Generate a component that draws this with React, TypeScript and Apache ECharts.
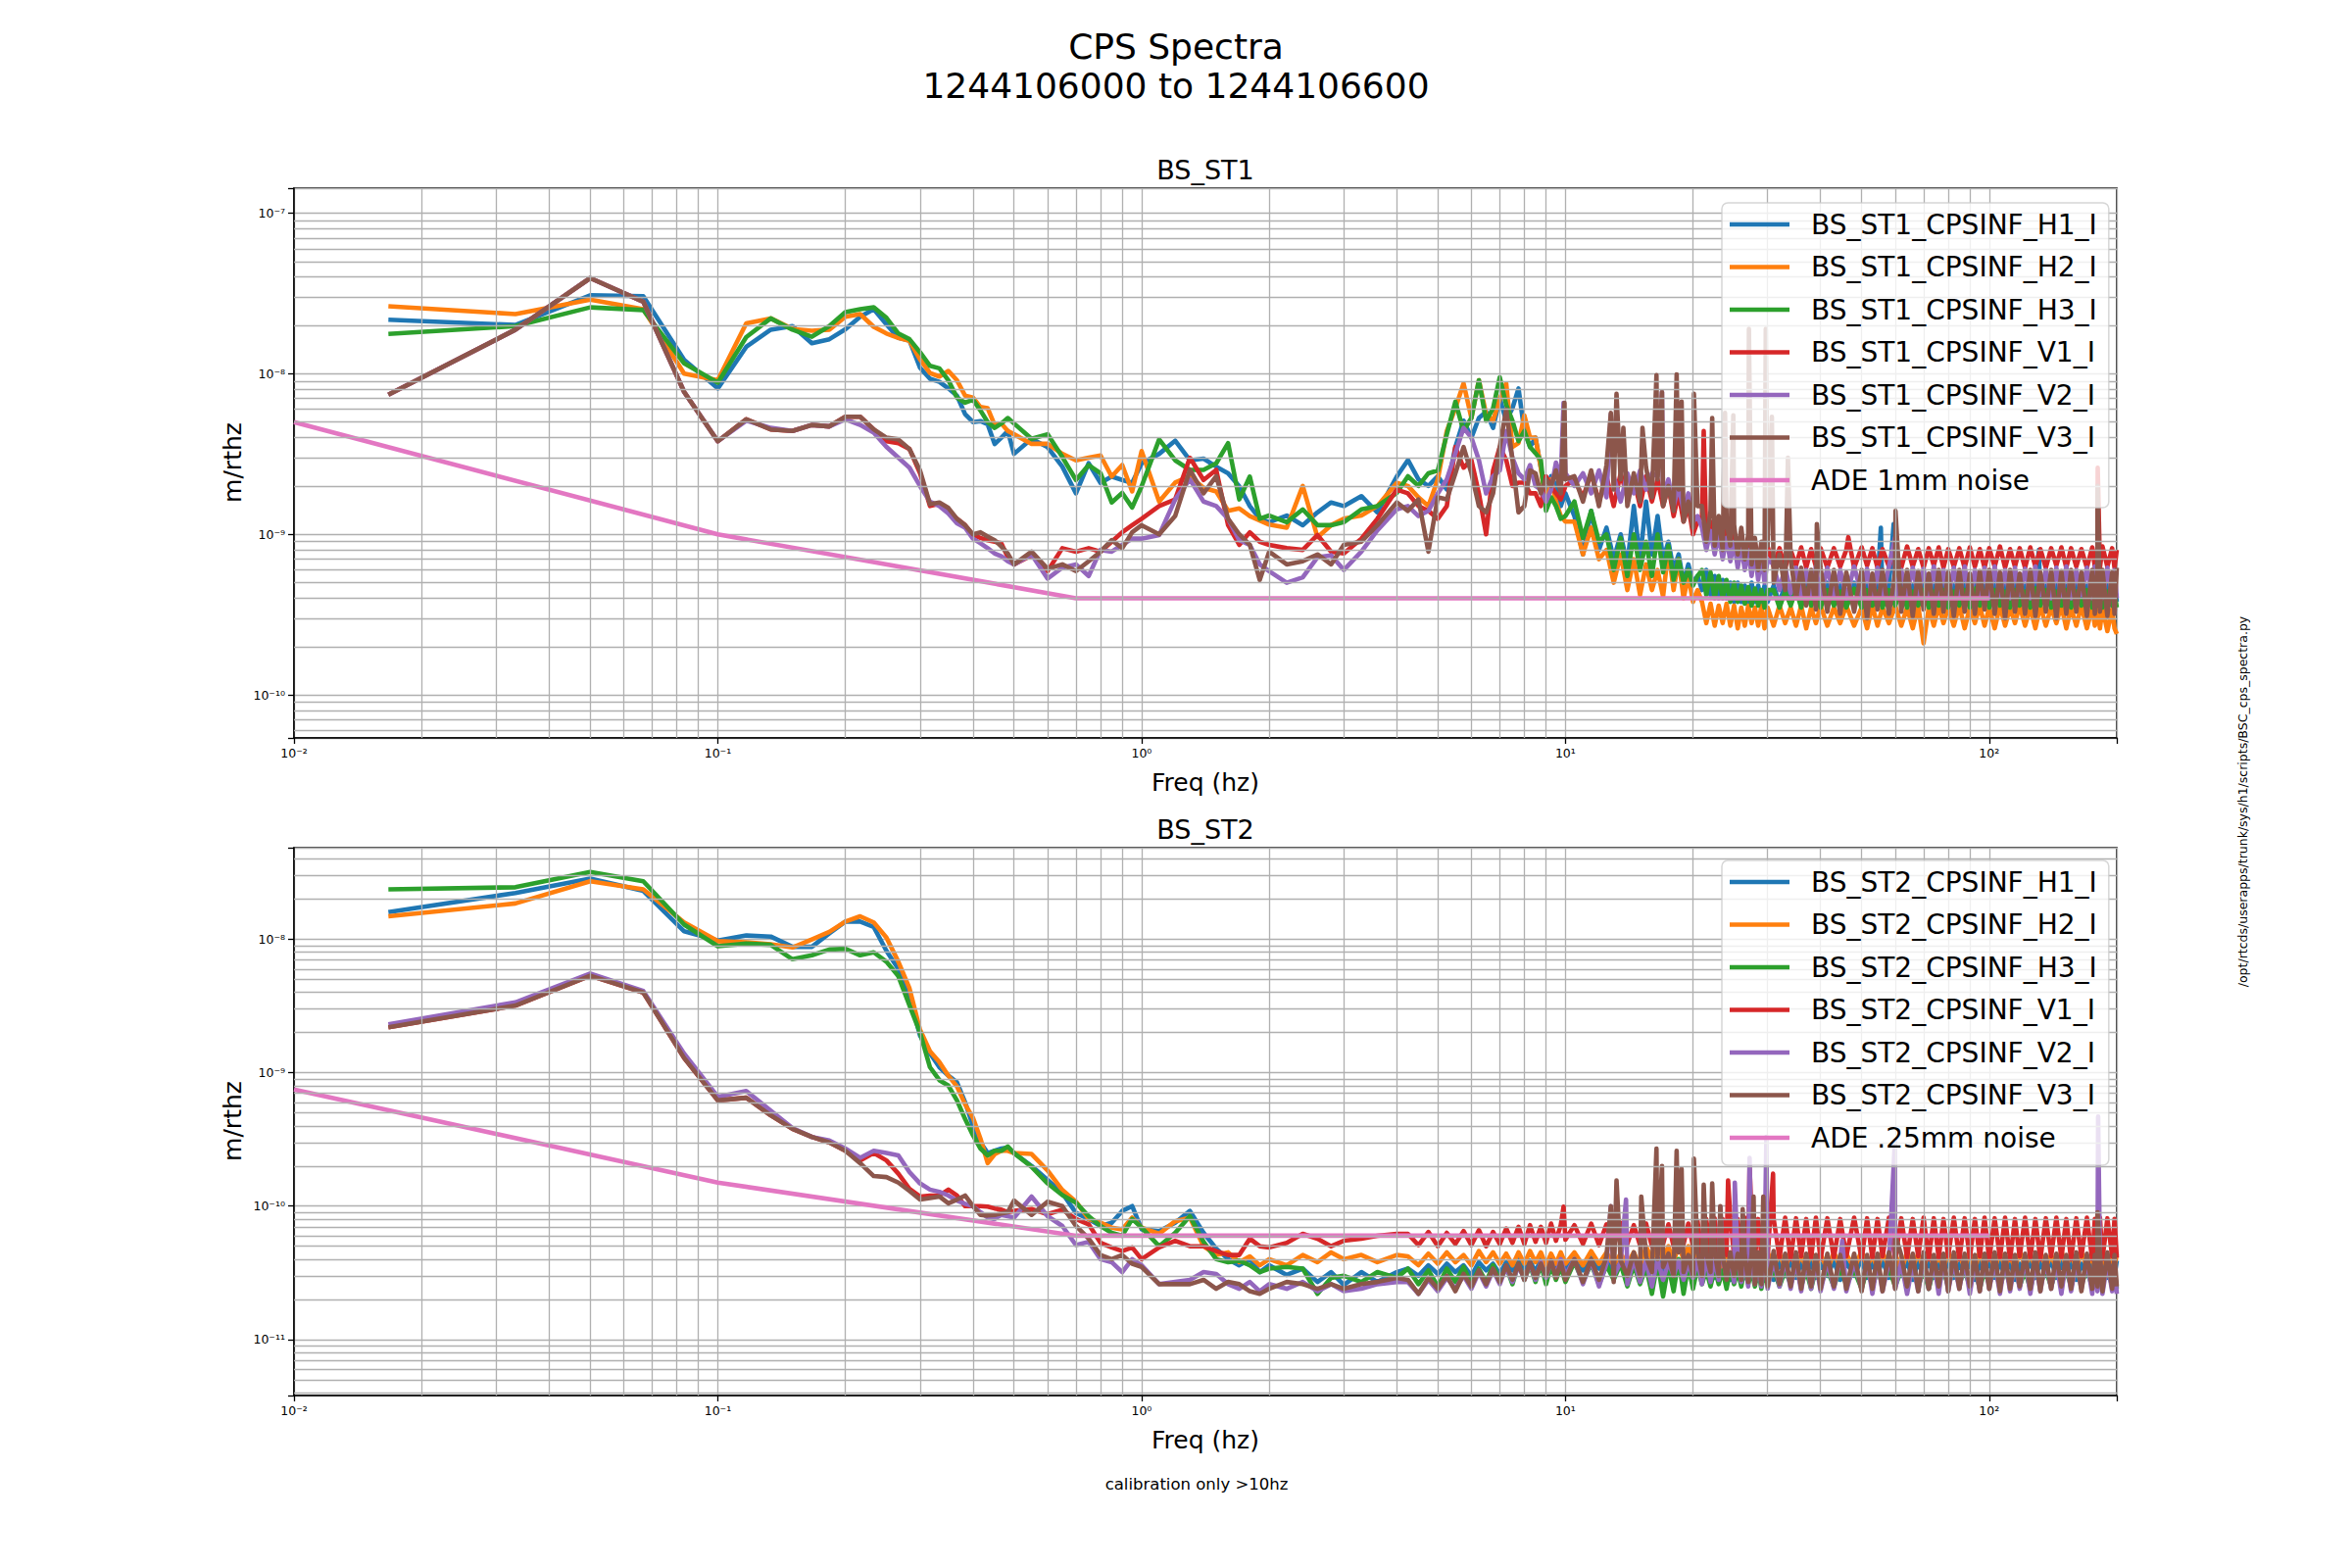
import React, { useEffect, useRef } from "react";
import * as echarts from "echarts";

// ---------------- data ----------------
// Frequencies (Hz), shared by every CPS series
const FREQ = [
  0.0167, 0.0333, 0.05, 0.0667, 0.0833, 0.1, 0.1167, 0.1333, 0.15, 0.1667, 0.1833, 0.2, 0.2167, 0.2333, 0.25, 0.2667, 0.2833, 0.3, 0.3167, 0.3333, 0.35, 0.3667, 0.3833, 0.4, 0.4167, 0.4333, 0.45, 0.4667, 0.4833, 0.5,
  0.55, 0.6, 0.65, 0.7, 0.75, 0.8, 0.85, 0.9, 0.95, 1.0, 1.1, 1.2, 1.3, 1.4, 1.5, 1.6, 1.7, 1.8, 1.9, 2.0, 2.2, 2.4, 2.6, 2.8, 3.0, 3.3, 3.6, 4.0,
  4.25, 4.5, 4.75, 5, 5.25, 5.5, 5.75, 6, 6.25, 6.5, 6.75, 7, 7.25, 7.5, 7.75, 8, 8.25, 8.5, 8.75, 9, 9.25, 9.5, 9.75, 10,
  10.5, 11, 11.5, 12, 12.5, 13, 13.5, 14, 14.5, 15, 15.5, 16, 16.5, 17, 17.5, 18, 18.5, 19, 19.5, 20, 20.5,
  21, 21.5, 22, 22.5, 23, 23.5, 24, 24.5, 25, 25.5, 26, 26.5, 27, 27.5, 28, 28.5, 29, 29.5, 30,
  31, 32, 33, 34, 35, 36, 37, 38, 39, 40,
  41.5, 43, 44.5, 46, 48, 50, 51.5, 53, 54.5, 56,
  58, 60, 62, 64, 66, 68, 70, 72, 74, 76, 78, 80,
  82.5, 85, 87.5, 90, 92.5, 95, 97.5, 100,
  103, 106, 109, 112, 115, 118,
  121.5, 125, 128.5, 132, 136, 140, 144, 148, 152, 156,
  160.5, 165, 170, 175, 177.5, 180, 182.5, 185, 190, 195, 197.5, 200,
];

// BS_ST1 values in nm/rtHz
const ST1_H1 = [
  21.7, 20.1, 30.8, 30.4, 12.2, 8.1, 14.7, 18.8, 19.8, 15.5, 16.4, 18.9, 22.6, 25.2, 20.3, 16.7, 16.1, 10.9, 9.3, 8.9, 8.1, 7.3, 5.6, 5.0, 5.07, 4.84, 3.65, 4.0, 4.4, 3.17,
  3.93, 3.49, 2.64, 1.8, 2.77, 2.09, 2.29, 2.18, 2.09, 2.77, 3.17, 3.83, 2.89, 2.96, 2.64, 2.4, 1.99, 1.5, 1.25, 1.19, 1.31, 1.14, 1.37, 1.58, 1.5, 1.73, 1.37, 2.29,
  2.9, 2.2, 2.0, 2.3, 1.9, 3.5, 5.1, 4.0, 5.3, 5.8, 4.6, 7.0, 5.1, 6.1, 8.1, 4.4, 3.5, 4.0, 2.6, 1.7, 2.3, 2.0, 1.5, 1.8,
  1.3, 0.75, 1.4, 0.8, 1.1, 0.7, 1.0, 0.65, 1.5, 0.7, 1.6, 0.75, 1.3, 0.7, 0.9, 0.6, 0.75, 0.5, 0.65, 0.5, 0.55,
  0.45, 0.6, 0.42, 0.55, 0.4, 0.52, 0.4, 0.5, 0.38, 0.5, 0.38, 0.48, 0.37, 0.5, 0.38, 0.48, 0.37, 0.48, 0.38,
  0.48, 0.37, 0.5, 0.38, 0.47, 0.37, 0.49, 0.38, 0.48, 0.37,
  0.5, 0.38, 0.48, 0.37, 0.5, 0.39, 0.48, 0.38, 0.49, 0.37,
  0.48, 0.37, 0.5, 0.38, 0.48, 0.37, 0.49, 0.38, 0.48, 0.37, 0.5, 0.38,
  0.48, 0.37, 0.5, 0.38, 0.49, 0.37, 0.48, 0.38,
  0.5, 0.37, 0.48, 0.38, 0.49, 0.37,
  0.48, 0.38, 0.5, 0.37, 0.48, 0.38, 0.49, 0.37, 0.48, 0.38,
  0.5, 0.37, 0.48, 0.38, 0.49, 0.37, 0.48, 0.38, 0.5, 0.37, 0.48, 0.38,
];
const ST1_H1_SPIKES = [[55.5, 1.1], [59.5, 1.16], [131, 0.8]];

const ST1_H2 = [
  26.3, 23.5, 28.9, 25.2, 10.0, 9.1, 20.6, 22.1, 19.0, 18.5, 18.8, 22.6, 23.5, 19.6, 17.8, 16.7, 16.0, 12.3, 10.1, 9.6, 10.4, 9.1, 7.3, 7.1, 6.2, 6.1, 4.8, 4.9, 4.4, 4.2,
  3.66, 3.66, 3.17, 2.89, 3.0, 3.1, 2.29, 2.7, 1.85, 3.3, 1.6, 2.1, 2.3, 1.95, 1.85, 1.4, 1.45, 1.3, 1.22, 1.15, 1.1, 2.0, 0.96, 1.14, 1.25, 1.31, 1.5, 2.09,
  2.0, 1.7, 1.5, 2.2, 4.4, 6.1, 8.7, 5.3, 9.1, 5.6, 5.1, 7.0, 8.7, 3.5, 3.7, 5.5, 4.0, 4.0, 2.6, 1.5, 2.2, 1.6, 1.3, 1.2,
  1.2, 0.75, 1.1, 0.7, 0.8, 0.5, 0.75, 0.45, 0.7, 0.42, 0.65, 0.45, 0.6, 0.41, 0.8, 0.45, 0.7, 0.4, 0.55, 0.38, 0.45,
  0.38, 0.28, 0.37, 0.27, 0.36, 0.28, 0.37, 0.27, 0.36, 0.26, 0.35, 0.27, 0.36, 0.28, 0.35, 0.27, 0.36, 0.26, 0.35,
  0.27, 0.36, 0.28, 0.35, 0.27, 0.36, 0.26, 0.35, 0.28, 0.36,
  0.27, 0.35, 0.28, 0.36, 0.27, 0.35, 0.26, 0.36, 0.27, 0.35,
  0.28, 0.36, 0.27, 0.35, 0.26, 0.36, 0.21, 0.35, 0.27, 0.36, 0.28, 0.35,
  0.27, 0.36, 0.26, 0.35, 0.28, 0.36, 0.27, 0.35,
  0.26, 0.36, 0.27, 0.35, 0.28, 0.36,
  0.27, 0.35, 0.26, 0.36, 0.27, 0.35, 0.28, 0.36, 0.26, 0.35,
  0.27, 0.36, 0.26, 0.35, 0.27, 0.34, 0.26, 0.35, 0.25, 0.34, 0.26, 0.24,
];

const ST1_H3 = [
  17.7, 19.8, 25.9, 24.9, 11.6, 8.8, 16.9, 22.1, 18.8, 17.0, 19.8, 24.2, 25.2, 25.9, 22.3, 17.8, 16.4, 13.6, 11.2, 10.8, 9.1, 7.1, 6.6, 6.9, 5.9, 5.0, 4.6, 4.9, 5.3, 4.9,
  3.93, 4.2, 3.03, 2.18, 2.7, 2.4, 1.58, 1.81, 1.47, 1.99, 3.9, 2.89, 2.52, 2.52, 2.77, 3.7, 1.65, 2.29, 1.25, 1.31, 1.19, 1.43, 1.14, 1.14, 1.19, 1.43, 1.5, 1.81,
  2.3, 2.0, 2.4, 2.5, 4.2, 6.7, 4.4, 5.3, 9.1, 5.1, 6.1, 9.5, 6.4, 5.1, 3.8, 4.4, 3.5, 3.2, 2.9, 1.4, 1.7, 1.5, 1.25, 1.3,
  1.6, 0.95, 1.4, 0.9, 1.0, 0.6, 0.95, 0.55, 1.0, 0.6, 0.9, 0.55, 1.0, 0.58, 0.85, 0.52, 0.7, 0.5, 0.6, 0.48, 0.55,
  0.6, 0.42, 0.58, 0.4, 0.55, 0.4, 0.52, 0.38, 0.5, 0.38, 0.48, 0.37, 0.47, 0.36, 0.46, 0.36, 0.45, 0.35, 0.45,
  0.45, 0.35, 0.44, 0.36, 0.45, 0.35, 0.46, 0.36, 0.44, 0.35,
  0.45, 0.36, 0.44, 0.35, 0.46, 0.35, 0.45, 0.36, 0.44, 0.35,
  0.45, 0.36, 0.46, 0.35, 0.44, 0.36, 0.45, 0.35, 0.44, 0.36, 0.45, 0.35,
  0.44, 0.36, 0.45, 0.35, 0.46, 0.36, 0.44, 0.35,
  0.45, 0.36, 0.44, 0.35, 0.45, 0.36,
  0.44, 0.35, 0.46, 0.36, 0.45, 0.35, 0.44, 0.36, 0.45, 0.35,
  0.44, 0.36, 0.45, 0.35, 0.44, 0.36, 0.45, 0.35, 0.44, 0.36, 0.43, 0.35,
];

const ST1_V1 = [
  7.4, 18.8, 39.4, 28.1, 7.7, 3.8, 5.2, 4.5, 4.4, 4.8, 4.7, 5.4, 5.4, 4.5, 3.8, 3.7, 3.4, 2.4, 1.5, 1.55, 1.4, 1.25, 1.14, 0.99, 0.95, 0.92, 0.9, 0.88, 0.72, 0.65,
  0.74, 0.59, 0.82, 0.78, 0.82, 0.78, 0.9, 1.03, 1.14, 1.25, 1.5, 1.65, 3.0, 2.18, 2.52, 1.14, 0.86, 1.03, 0.9, 0.86, 0.82, 0.8, 0.99, 0.78, 0.76, 0.94, 1.25, 1.9,
  1.8, 1.5, 1.4, 1.25, 1.5, 3.5, 2.6, 2.9, 1.8, 1.0, 2.5, 3.5, 2.9, 2.0, 2.1, 2.1, 1.8, 1.8, 1.5, 2.3, 2.0, 1.8, 1.65, 2.0,
  2.2, 1.7, 2.4, 1.6, 2.3, 1.5, 2.4, 1.7, 2.2, 1.5, 2.3, 1.6, 2.2, 1.5, 2.0, 1.3, 1.8, 1.2, 1.5, 1.0, 1.2,
  1.3, 0.9, 1.2, 0.85, 1.15, 0.8, 1.1, 0.8, 1.0, 0.75, 0.95, 0.72, 0.9, 0.7, 0.88, 0.68, 0.85, 0.66, 0.84,
  0.63, 0.82, 0.62, 0.8, 0.64, 0.83, 0.62, 0.81, 0.63, 0.82,
  0.62, 0.82, 0.63, 0.8, 0.62, 0.83, 0.64, 0.82, 0.62, 0.81,
  0.63, 0.82, 0.62, 0.84, 0.63, 0.81, 0.62, 0.82, 0.64, 0.83, 0.62, 0.81,
  0.63, 0.82, 0.62, 0.83, 0.63, 0.81, 0.62, 0.82,
  0.63, 0.84, 0.62, 0.81, 0.63, 0.82,
  0.62, 0.83, 0.63, 0.81, 0.62, 0.82, 0.64, 0.83, 0.62, 0.82,
  0.63, 0.81, 0.62, 0.83, 0.63, 0.82, 0.62, 0.84, 0.63, 0.82, 0.62, 0.8,
];
const ST1_V1_SPIKES = [[21.2, 4.4], [46.5, 0.96], [180.3, 2.6]];

const ST1_V2 = [
  7.4, 18.8, 39.4, 28.1, 7.7, 3.8, 5.1, 4.6, 4.4, 4.8, 4.7, 5.2, 4.8, 4.3, 3.5, 3.0, 2.6, 2.0, 1.6, 1.5, 1.35, 1.17, 1.1, 0.94, 0.88, 0.82, 0.76, 0.73, 0.68, 0.65,
  0.75, 0.53, 0.62, 0.65, 0.55, 0.8, 0.78, 0.86, 0.94, 0.94, 0.99, 1.65, 2.2, 1.6, 1.5, 1.25, 0.92, 0.86, 0.65, 0.59, 0.5, 0.54, 0.72, 0.74, 0.6, 0.78, 1.06, 1.43,
  1.5, 1.3, 1.4, 1.8, 2.2, 3.2, 4.6, 4.0, 2.9, 1.8, 2.3, 2.5, 4.4, 3.0, 2.4, 2.2, 2.7, 2.0, 1.9, 1.6, 1.9, 2.8, 2.2, 2.4,
  2.0, 2.4, 1.8, 2.5, 1.7, 2.3, 1.6, 2.4, 1.8, 2.5, 1.9, 2.4, 2.3, 1.7, 2.2, 1.5, 2.0, 1.4, 1.8, 1.2, 1.3,
  1.1, 0.8, 1.05, 0.75, 1.0, 0.7, 0.95, 0.68, 0.9, 0.62, 0.85, 0.6, 0.8, 0.55, 0.78, 0.52, 0.75, 0.5, 0.7,
  0.65, 0.45, 0.63, 0.43, 0.62, 0.41, 0.6, 0.42, 0.63, 0.4,
  0.62, 0.41, 0.6, 0.4, 0.63, 0.42, 0.61, 0.4, 0.62, 0.41,
  0.63, 0.4, 0.6, 0.42, 0.62, 0.41, 0.61, 0.4, 0.63, 0.42, 0.6, 0.4,
  0.62, 0.41, 0.63, 0.4, 0.6, 0.42, 0.62, 0.4,
  0.63, 0.41, 0.6, 0.4, 0.62, 0.42,
  0.61, 0.4, 0.63, 0.42, 0.6, 0.4, 0.62, 0.41, 0.63, 0.4,
  0.6, 0.42, 0.62, 0.4, 0.63, 0.41, 0.6, 0.4, 0.62, 0.42, 0.6, 0.4,
];
const ST1_V2_SPIKES = [[9.9, 6.6], [12.8, 5.6], [16.9, 7.7], [59.9, 0.95]];

const ST1_V3 = [
  7.4, 18.8, 39.4, 28.1, 7.7, 3.8, 5.2, 4.5, 4.4, 4.8, 4.7, 5.4, 5.4, 4.5, 4.0, 3.9, 3.4, 2.5, 1.54, 1.58, 1.46, 1.25, 1.14, 1.0, 1.03, 0.97, 0.92, 0.84, 0.76, 0.65,
  0.78, 0.61, 0.65, 0.59, 0.68, 0.78, 0.92, 0.82, 1.03, 1.14, 1.0, 1.3, 2.52, 1.8, 2.3, 1.25, 1.0, 0.86, 0.52, 0.78, 0.65, 0.68, 0.75, 0.65, 0.86, 0.9, 1.14, 1.58,
  1.4, 1.65, 0.78, 1.7, 1.65, 2.4, 3.5, 2.4, 1.5, 1.37, 1.8, 3.5, 6.0, 2.9, 1.37, 1.5, 2.5, 2.4, 1.8, 2.2, 2.0, 2.5, 1.8, 2.2,
  2.3, 1.6, 2.5, 1.5, 2.7, 1.9, 2.2, 1.5, 2.4, 1.6, 2.6, 1.7, 2.2, 1.5, 2.0, 1.4, 1.9, 1.2, 1.6, 1.1, 1.5,
  1.5, 0.9, 1.4, 0.85, 1.3, 0.8, 1.2, 0.85, 1.15, 0.75, 1.1, 0.7, 1.0, 0.65, 0.95, 0.6, 0.9, 0.6, 0.85,
  0.5, 0.75, 0.45, 0.7, 0.4, 0.62, 0.36, 0.6, 0.34, 0.62,
  0.33, 0.6, 0.32, 0.58, 0.33, 0.6, 0.3, 0.57, 0.34, 0.6,
  0.32, 0.58, 0.33, 0.6, 0.31, 0.59, 0.34, 0.57, 0.32, 0.6, 0.33, 0.58,
  0.31, 0.6, 0.33, 0.57, 0.32, 0.59, 0.34, 0.6,
  0.32, 0.58, 0.3, 0.6, 0.33, 0.57,
  0.32, 0.6, 0.31, 0.58, 0.33, 0.6, 0.3, 0.59, 0.32, 0.6,
  0.33, 0.58, 0.31, 0.6, 0.32, 0.59, 0.33, 0.6, 0.31, 0.58, 0.32, 0.62,
];
const ST1_V3_SPIKES = [
  [9.95, 6.6], [12.8, 5.7], [13.2, 7.5], [13.7, 4.6], [15.2, 4.6], [16.4, 9.8], [16.9, 7.7], [18.3, 9.9], [18.8, 6.7], [20.1, 7.5],
  [22.2, 5.3], [23.8, 5.7], [24.9, 5.5], [27.1, 19], [29.7, 19], [30.7, 5.4], [33.5, 3.0], [39.2, 1.16], [60.1, 1.4], [180.2, 2.0],
];

// BS_ST2 values in pm/rtHz
const ST2_H1 = [
  16000, 22300, 28600, 23100, 11500, 9800, 10700, 10500, 8800, 8800, 11100, 13600, 13600, 12400, 8200, 6000, 3800, 1900, 1400, 1100, 950, 850, 600, 400, 300, 250, 260, 270, 275, 250,
  200, 157, 125, 89, 80, 71, 75, 92, 100, 67, 65, 75, 92, 63, 48, 40, 36, 40, 32, 36, 30.5, 34, 27, 32, 25.7, 32, 27, 32,
  34, 30, 36, 31, 37, 32, 36, 30, 38, 33, 37, 31, 38, 33, 40, 34, 39, 32, 40, 35, 41, 34, 42, 34,
  40, 33, 41, 34, 40, 33, 41, 34, 42, 33, 40, 34, 41, 33, 40, 26, 38, 30, 36, 30, 37,
  38, 30, 39, 29, 37, 30, 39, 28, 38, 30, 40, 29, 38, 31, 39, 29, 37, 30, 39,
  28, 38, 30, 40, 29, 38, 30, 39, 29, 37,
  30, 39, 28, 38, 30, 40, 29, 38, 31, 39,
  29, 37, 30, 39, 28, 38, 30, 40, 29, 38, 30, 39,
  29, 37, 30, 39, 28, 38, 30, 40,
  29, 38, 30, 39, 28, 37,
  30, 39, 29, 38, 30, 40, 29, 38, 30, 39,
  28, 37, 30, 39, 29, 38, 30, 40, 29, 38, 30, 39,
];

const ST2_H2 = [
  14900, 18600, 27300, 23700, 13400, 9700, 9500, 9200, 8700, 10000, 11400, 13600, 14900, 13400, 10300, 6800, 4300, 2100, 1450, 1200, 950, 790, 580, 460, 320, 210, 245, 260, 260, 250,
  246, 185, 132, 108, 80, 75, 69, 67, 82, 69, 62, 77, 82, 50, 43, 45, 38, 42, 36, 40, 36, 43, 38, 45, 40, 43, 38, 43,
  42, 36, 44, 37, 45, 38, 43, 36, 46, 38, 45, 37, 44, 36, 45, 37, 46, 38, 45, 36, 44, 37, 45, 37,
  45, 36, 46, 37, 45, 36, 44, 37, 45, 35, 50, 40, 52, 40, 50, 38, 51, 40, 50, 38, 45,
  44, 34, 45, 35, 43, 34, 46, 35, 44, 33, 45, 35, 44, 34, 46, 35, 43, 34, 45,
  35, 44, 34, 45, 35, 43, 34, 46, 35, 44,
  33, 45, 35, 44, 34, 46, 35, 43, 34, 45,
  35, 44, 33, 45, 35, 44, 34, 46, 35, 43, 34, 45,
  35, 44, 34, 45, 33, 46, 35, 44,
  34, 45, 35, 43, 34, 46,
  35, 44, 34, 45, 35, 43, 34, 46, 35, 44,
  34, 45, 35, 43, 34, 46, 35, 44, 33, 45, 35, 44,
];

const ST2_H3 = [
  23700, 24600, 32000, 27300, 12900, 8900, 9300, 9100, 7100, 7600, 8400, 8500, 7600, 8000, 6800, 5300, 3200, 2000, 1100, 880, 800, 620, 450, 340, 270, 240, 260, 260, 280, 250,
  197, 148, 121, 106, 84, 71, 63, 60, 80, 69, 50, 63, 84, 54, 40, 38, 39, 36, 32, 34, 35, 34, 22, 29, 30, 27, 32, 29,
  34, 26, 33, 25, 34, 27, 35, 26, 34, 27, 36, 28, 35, 26, 37, 28, 36, 27, 37, 26, 36, 28, 35, 27,
  38, 27, 37, 26, 36, 28, 37, 25, 36, 26, 35, 22, 38, 21, 36, 23, 40, 22, 36, 24, 35,
  26, 33, 25, 34, 26, 33, 24, 34, 26, 33, 25, 35, 26, 33, 25, 34, 24, 33, 26,
  34, 25, 33, 26, 35, 25, 33, 24, 34, 26,
  33, 25, 34, 26, 33, 24, 34, 25, 33, 26,
  34, 25, 33, 26, 35, 25, 33, 24, 34, 26, 33, 25,
  34, 26, 33, 25, 34, 24, 33, 26,
  34, 25, 33, 26, 35, 25,
  33, 24, 34, 26, 33, 25, 34, 26, 33, 25,
  34, 26, 33, 25, 34, 24, 33, 26, 34, 25, 33, 24,
];

const ST2_V1 = [
  2190, 3190, 5340, 4000, 1290, 620, 650, 480, 380, 330, 300, 260, 220, 250, 220, 175, 135, 118, 120, 120, 133, 120, 100, 100, 100, 99, 96, 94, 90, 92,
  95, 87, 94, 80, 73, 53, 49, 46, 49, 40, 49, 55, 50, 50, 46, 43, 43, 57, 50, 49, 53, 62, 57, 50, 55, 57, 60, 62,
  62, 51, 64, 50, 63, 52, 65, 51, 66, 50, 64, 52, 68, 53, 70, 52, 72, 54, 70, 53, 74, 55, 72, 56,
  72, 52, 74, 51, 73, 50, 75, 52, 72, 51, 74, 50, 76, 52, 73, 50, 75, 52, 74, 50, 78,
  42, 80, 44, 81, 41, 80, 43, 82, 42, 80, 41, 82, 42, 81, 40, 80, 42, 82, 41,
  80, 41, 82, 40, 81, 42, 80, 41, 82, 40,
  81, 41, 80, 42, 82, 40, 81, 41, 80, 42,
  82, 40, 81, 41, 80, 42, 82, 40, 81, 41, 80, 42,
  82, 40, 81, 41, 80, 42, 82, 40,
  81, 41, 82, 40, 80, 42,
  82, 41, 80, 40, 81, 42, 82, 41, 80, 40,
  81, 42, 82, 40, 80, 41, 82, 40, 81, 42, 80, 41,
];
const ST2_V1_SPIKES = [[9.9, 99], [24.2, 156], [27.2, 200], [30.9, 175]];

const ST2_V2 = [
  2310, 3370, 5550, 4100, 1390, 660, 730, 520, 385, 330, 310, 270, 230, 260, 250, 240, 180, 148, 133, 128, 120, 110, 104, 100, 90, 82, 80, 86, 84, 82,
  118, 84, 71, 51, 54, 40, 38, 32, 40, 36, 26, 27, 28, 32, 31, 26, 24, 27, 23, 26, 24, 27, 23, 26, 23, 24, 26, 27,
  27, 22, 28, 23, 29, 24, 30, 24, 32, 25, 33, 26, 35, 27, 36, 28, 37, 28, 38, 29, 39, 30, 40, 30,
  40, 26, 39, 25, 37, 30, 38, 26, 40, 27, 39, 25, 40, 28, 38, 30, 39, 28, 38, 29, 40,
  26, 42, 27, 40, 28, 40, 30, 40, 27, 40, 27, 40, 25, 40, 26, 39, 25, 40, 24,
  40, 25, 40, 24, 39, 23, 40, 24, 38, 23,
  39, 24, 40, 23, 38, 24, 40, 22, 38, 23,
  38, 24, 38, 22, 37, 23, 39, 24, 38, 22, 40, 23,
  38, 24, 39, 22, 38, 23, 40, 24,
  38, 22, 39, 23, 38, 24,
  40, 22, 38, 23, 39, 24, 38, 22, 40, 23,
  38, 24, 39, 22, 38, 23, 40, 22, 38, 23, 37, 22,
];
const ST2_V2_SPIKES = [[12.8, 100], [13.9, 112], [23.2, 99], [25.1, 150], [27.2, 230], [29.8, 330], [45.0, 55], [59.9, 310], [180.7, 470]];

const ST2_V3 = [
  2190, 3190, 5340, 4000, 1290, 620, 650, 480, 380, 330, 300, 260, 210, 168, 165, 150, 130, 112, 115, 118, 105, 112, 120, 100, 86, 85, 86, 88, 90, 110,
  86, 108, 100, 71, 57, 43, 40, 43, 37, 35, 26, 26, 26, 28, 24, 27, 26, 23, 22, 24, 27, 26, 24, 26, 24, 26, 27, 29,
  28, 22, 29, 24, 30, 23, 31, 25, 33, 26, 34, 27, 36, 28, 37, 28, 38, 29, 37, 30, 39, 29, 38, 28,
  40, 27, 40, 28, 42, 27, 39, 30, 45, 30, 42, 32, 40, 35, 44, 30, 45, 32, 43, 30, 45,
  30, 44, 32, 45, 30, 44, 28, 45, 30, 44, 28, 43, 27, 44, 26, 45, 26, 44, 25,
  46, 26, 44, 25, 45, 24, 44, 25, 43, 24,
  44, 25, 43, 24, 44, 23, 43, 24, 44, 23,
  45, 24, 43, 25, 44, 23, 45, 24, 43, 25, 44, 23,
  45, 24, 44, 25, 43, 23, 44, 24,
  45, 23, 44, 24, 43, 25,
  44, 24, 45, 23, 43, 24, 44, 25, 43, 24,
  45, 23, 44, 24, 43, 25, 44, 23, 45, 24, 43, 25,
];
const ST2_V3_SPIKES = [
  [12.8, 100], [13.2, 156], [15.1, 118], [16.4, 270], [16.9, 200], [18.3, 260], [18.8, 190], [20.1, 227],
  [21.2, 145], [22.2, 148], [23.2, 100], [26.2, 95], [27.8, 118], [29.3, 118], [60.1, 60], [180.1, 90],
];

// ADE noise curves (nm/rtHz)
const ADE_FREQ = [0.01, 0.1, 0.7, 100];
const ADE_1MM = [5.0, 1.0, 0.4, 0.4];
const ADE_025MM = [0.75, 0.15, 0.06, 0.06];

const ST1_NAMES = ["BS_ST1_CPSINF_H1_I", "BS_ST1_CPSINF_H2_I", "BS_ST1_CPSINF_H3_I", "BS_ST1_CPSINF_V1_I", "BS_ST1_CPSINF_V2_I", "BS_ST1_CPSINF_V3_I", "ADE 1mm noise"];
const ST2_NAMES = ["BS_ST2_CPSINF_H1_I", "BS_ST2_CPSINF_H2_I", "BS_ST2_CPSINF_H3_I", "BS_ST2_CPSINF_V1_I", "BS_ST2_CPSINF_V2_I", "BS_ST2_CPSINF_V3_I", "ADE .25mm noise"];

// ---------------- styling / layout ----------------
const COLORS = ["#1f77b4", "#ff7f0e", "#2ca02c", "#d62728", "#9467bd", "#8c564b", "#e377c2"];
const FONT = "DejaVu Sans";
const NM = 1e-9;
const PM = 1e-12;
const GRIDS = [
  { left: 300, top: 192, width: 1860, height: 561 },
  { left: 300, top: 865, width: 1860, height: 559 },
];
const X_MIN = 0.01;
const X_MAX = 200;
const Y_RANGES = [
  [5.4e-11, 1.43e-7],
  [3.8e-12, 4.87e-8],
];
const GRID_COLOR = "#b0b0b0";
const LINE_W = 4.6;

const SUP: Record<string, string> = { "-": "\u207b", "0": "\u2070", "1": "\u00b9", "2": "\u00b2", "3": "\u00b3", "4": "\u2074", "5": "\u2075", "6": "\u2076", "7": "\u2077", "8": "\u2078", "9": "\u2079" };

function powLabel(v: number) {
  const e = Math.log10(v);
  const r = Math.round(e);
  if (Math.abs(e - r) > 1e-6) return "";
  return "10" + String(r).split("").map((c) => SUP[c] || c).join("");
}

function minorValues(lo: number, hi: number) {
  const out: number[] = [];
  for (let e = Math.floor(Math.log10(lo)) - 1; e <= Math.ceil(Math.log10(hi)); e++) {
    for (let m = 2; m <= 9; m++) {
      const v = m * Math.pow(10, e);
      if (v > lo * 1.0001 && v < hi * 0.9999) out.push(v);
    }
  }
  return out;
}

function buildData(vals: number[], spikes: number[][], unit: number) {
  const pts: number[][] = [];
  const n = Math.min(vals.length, FREQ.length);
  for (let i = 0; i < n; i++) pts.push([FREQ[i], vals[i] * unit]);
  for (const s of spikes) pts.push([s[0], s[1] * unit]);
  pts.sort((a, b) => a[0] - b[0]);
  return pts;
}

function lineSeries(name: string, color: string, data: number[][], gi: number) {
  return {
    name,
    type: "line",
    xAxisIndex: gi,
    yAxisIndex: gi,
    data,
    showSymbol: false,
    symbol: "none",
    silent: true,
    z: 3,
    lineStyle: { color, width: LINE_W, join: "round", cap: "butt" },
    itemStyle: { color, borderWidth: 0 },
    emphasis: { disabled: true },
  };
}

function gridSeries(gi: number) {
  const xs = minorValues(X_MIN, X_MAX).map((v) => ({ xAxis: v }));
  const ys = minorValues(Y_RANGES[gi][0], Y_RANGES[gi][1]).map((v) => ({ yAxis: v }));
  return {
    type: "line",
    xAxisIndex: gi,
    yAxisIndex: gi,
    data: [],
    silent: true,
    z: 1,
    markLine: {
      silent: true,
      animation: false,
      precision: 20,
      symbol: ["none", "none"],
      label: { show: false },
      emphasis: { disabled: true },
      lineStyle: { color: GRID_COLOR, width: 1.3, type: "solid" },
      data: [...xs, ...ys],
    },
  };
}

function textEl(x: number, y: number, text: string, fontSize: number, rotation = 0) {
  return {
    type: "text",
    x,
    y,
    rotation,
    silent: true,
    style: {
      text,
      fill: "#000",
      fontSize,
      fontFamily: FONT,
      textAlign: "center",
      textVerticalAlign: "middle",
      align: "center",
      verticalAlign: "middle",
    },
  };
}

function buildOption() {
  const st1: any[] = [
    [ST1_H1, ST1_H1_SPIKES], [ST1_H2, []], [ST1_H3, []], [ST1_V1, ST1_V1_SPIKES], [ST1_V2, ST1_V2_SPIKES], [ST1_V3, ST1_V3_SPIKES],
  ];
  const st2: any[] = [
    [ST2_H1, []], [ST2_H2, []], [ST2_H3, []], [ST2_V1, ST2_V1_SPIKES], [ST2_V2, ST2_V2_SPIKES], [ST2_V3, ST2_V3_SPIKES],
  ];
  const series: any[] = [gridSeries(0), gridSeries(1)];
  st1.forEach((d, i) => series.push(lineSeries(ST1_NAMES[i], COLORS[i], buildData(d[0], d[1], NM), 0)));
  series.push(lineSeries(ST1_NAMES[6], COLORS[6], ADE_FREQ.map((f, i) => [f, ADE_1MM[i] * NM]), 0));
  st2.forEach((d, i) => series.push(lineSeries(ST2_NAMES[i], COLORS[i], buildData(d[0], d[1], PM), 1)));
  series.push(lineSeries(ST2_NAMES[6], COLORS[6], ADE_FREQ.map((f, i) => [f, ADE_025MM[i] * NM]), 1));

  const axisCommon = {
    type: "log",
    logBase: 10,
    splitNumber: 5,
    axisLine: { show: true, lineStyle: { color: "#000", width: 1.5 } },
    axisTick: { show: true, inside: false, length: 6, lineStyle: { color: "#000", width: 1.3 } },
    splitLine: { show: true, lineStyle: { color: GRID_COLOR, width: 1.3, type: "solid" } },
    axisLabel: { formatter: powLabel, fontFamily: FONT, fontSize: 12.5, color: "#000", margin: 9, showMinLabel: true, showMaxLabel: true },
  };

  const legendCommon = {
    orient: "vertical",
    left: 1757,
    itemWidth: 61,
    itemHeight: 4.4,
    itemGap: 9.5,
    icon: "rect",
    padding: [5, 12, 11, 8],
    backgroundColor: "rgba(255,255,255,0.8)",
    borderColor: "rgba(204,204,204,0.8)",
    borderWidth: 1.5,
    borderRadius: 6,
    selectedMode: false,
    itemStyle: { borderWidth: 0 },
    textStyle: { fontFamily: FONT, fontSize: 28, lineHeight: 34, color: "#000", padding: [0, 0, 0, 17] },
    z: 10,
  };

  return {
    animation: false,
    backgroundColor: "#ffffff",
    textStyle: { fontFamily: FONT },
    grid: GRIDS.map((g) => ({ ...g, show: true, borderColor: "#000", borderWidth: 1.5, backgroundColor: "transparent", containLabel: false, outerBoundsMode: "none" })),
    xAxis: [0, 1].map((gi) => ({ ...axisCommon, gridIndex: gi, min: X_MIN, max: X_MAX })),
    yAxis: [0, 1].map((gi) => ({ ...axisCommon, gridIndex: gi, min: Y_RANGES[gi][0], max: Y_RANGES[gi][1], splitNumber: 4 })),
    legend: [
      { ...legendCommon, top: 207, data: ST1_NAMES },
      { ...legendCommon, top: 878, data: ST2_NAMES },
    ],
    graphic: [
      textEl(1200, 47, "CPS Spectra", 36),
      textEl(1200, 87, "1244106000 to 1244106600", 36),
      textEl(1230, 173, "BS_ST1", 27),
      textEl(1230, 846, "BS_ST2", 27),
      textEl(1230, 798, "Freq (hz)", 25),
      textEl(1230, 1469, "Freq (hz)", 25),
      textEl(237, 472, "m/rthz", 25, Math.PI / 2),
      textEl(237, 1144, "m/rthz", 25, Math.PI / 2),
      textEl(2288, 818, "/opt/rtcds/userapps/trunk/sys/h1/scripts/BSC_cps_spectra.py", 12.5, Math.PI / 2),
      textEl(1221, 1514, "calibration only >10hz", 16.5),
    ],
    series,
  };
}

export default function App() {
  const ref = useRef<HTMLDivElement>(null);
  useEffect(() => {
    document.body.style.margin = "0";
    const el = ref.current as HTMLDivElement;
    const chart = echarts.init(el, null, { renderer: "svg", width: 2400, height: 1600 });
    chart.setOption(buildOption() as any);
    return () => chart.dispose();
  }, []);
  return <div ref={ref} style={{ width: 2400, height: 1600, background: "#fff" }} />;
}
